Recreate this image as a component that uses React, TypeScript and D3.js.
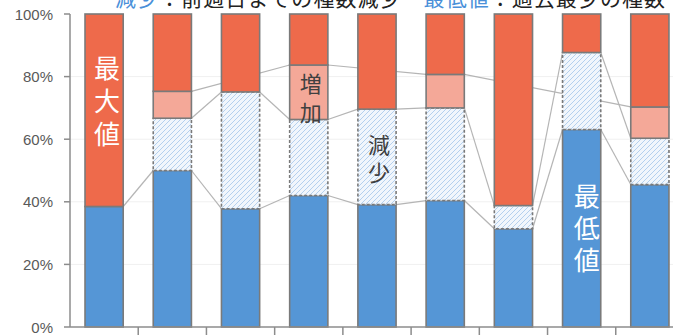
import React from "react";
import * as d3 from "d3";

// Weekly species-count composition, stacked to 100%
const weeks = ["1", "2", "3", "4", "5", "6", "7", "8", "9"];
const baseShare = [38.5, 50, 37.8, 42, 39.1, 40.4, 31.4, 63.1, 45.5];
const decreaseShare = [0, 16.7, 37.3, 24.3, 30.5, 29.6, 7.4, 24.6, 14.8];
const increaseShare = [0, 8.6, 0, 17.4, 0, 10.7, 0, 0, 10];
const restShare = weeks.map(
  (_, i) => 100 - baseShare[i] - decreaseShare[i] - increaseShare[i]
);
const yTicks = [0, 20, 40, 60, 80, 100];

const titleParts = [
  { text: "減少", blue: true },
  { text: "：前週日までの種数減少　", blue: false },
  { text: "最低値", blue: true },
  { text: "：過去最少の種数", blue: false },
];

// Vertical annotations: week index, percent at first glyph, text
const notes = [
  { week: 0, at: 83.4, text: "最大値", light: true, size: 26, pitch: 33, dx: 3 },
  { week: 3, at: 78.3, text: "増加", light: false, size: 22, pitch: 29, dx: 2 },
  { week: 4, at: 58.8, text: "減少", light: false, size: 22, pitch: 28, dx: 2 },
  { week: 7, at: 42.5, text: "最低値", light: true, size: 26, pitch: 32, dx: 5 },
];

const W = 673;
const H = 335;
const left = 70;
const top = 14;
const bottom = 327;

const BLUE = "#5596d6";
const RED = "#ee6a4b";
const PINK = "#f4a898";
const EDGE = "#7a7a7a";
const TEXT = "#595959";

export default function App() {
  const keys = ["base", "decrease", "increase", "rest"];
  const rows = weeks.map((w, i) => ({
    week: w,
    base: baseShare[i],
    decrease: decreaseShare[i],
    increase: increaseShare[i],
    rest: restShare[i],
  }));
  const stacked = d3.stack<any>().keys(keys)(rows);

  const x = d3
    .scaleBand<string>()
    .domain(weeks)
    .range([left, left + 9 * 68.22])
    .paddingInner(0.44)
    .paddingOuter(0.22);
  const y = d3.scaleLinear().domain([0, 100]).range([bottom, top]);
  const bw = x.bandwidth();

  const fills: Record<string, string> = {
    base: BLUE,
    decrease: "url(#hatch)",
    increase: PINK,
    rest: RED,
  };

  // Series connector lines: from the right edge of one bar to the left edge
  // of the next bar that has the segment, at the segment's top.
  const connectors: { x1: number; y1: number; x2: number; y2: number }[] = [];
  const present: Record<string, number[]> = {
    base: baseShare,
    decrease: decreaseShare,
    increase: increaseShare,
  };
  ["base", "decrease", "increase"].forEach((k) => {
    const s = stacked.find((d) => d.key === k)!;
    const idx = weeks.map((_, i) => i).filter((i) => present[k][i] > 0);
    for (let j = 0; j + 1 < idx.length; j++) {
      const a = idx[j];
      const b = idx[j + 1];
      connectors.push({
        x1: (x(weeks[a]) as number) + bw,
        y1: y(s[a][1]),
        x2: x(weeks[b]) as number,
        y2: y(s[b][1]),
      });
    }
  });

  const boundaries = d3.range(1, 10).map((i) => left + i * x.step());

  return (
    <svg
      width={W}
      height={H}
      style={{ position: "absolute", left: 0, top: 0, background: "#fff" }}
      fontFamily="'Noto Sans CJK JP', 'Noto Sans', sans-serif"
    >
      <defs>
        <pattern id="hatch" patternUnits="userSpaceOnUse" width="5" height="5">
          <rect width="5" height="5" fill="#f1f6fc" />
          <path
            d="M-1,1 l2,-2 M0,5 l5,-5 M4,6 l2,-2"
            stroke="#b4d0ee"
            strokeWidth="1"
          />
        </pattern>
      </defs>

      {/* gridlines */}
      {yTicks
        .filter((t) => t > 0 && t < 100)
        .map((t) => (
          <line
            key={t}
            x1={left}
            x2={W}
            y1={y(t)}
            y2={y(t)}
            stroke="#f0f0f0"
            strokeWidth={1}
          />
        ))}

      {/* connectors behind bars */}
      {connectors.map((c, i) => (
        <line
          key={i}
          x1={c.x1}
          y1={c.y1}
          x2={c.x2}
          y2={c.y2}
          stroke="#b5b5b5"
          strokeWidth={1.2}
        />
      ))}

      {/* stacked bars */}
      {stacked.map((s) =>
        s.map((d, i) => {
          const h = y(d[0]) - y(d[1]);
          if (h <= 0) return null;
          return (
            <rect
              key={s.key + i}
              x={x(weeks[i])}
              y={y(d[1])}
              width={bw}
              height={h}
              fill={fills[s.key]}
              stroke={EDGE}
              strokeWidth={1.6}
              strokeDasharray={s.key === "decrease" ? "3 2" : undefined}
            />
          );
        })
      )}

      {/* vertical labels */}
      {notes.map((n, k) => {
        const cx = (x(weeks[n.week]) as number) + bw / 2 + n.dx;
        return (
          <text
            key={k}
            fontSize={n.size}
            fill={n.light ? "#ffffff" : "#404040"}
            textAnchor="middle"
            dominantBaseline="central"
          >
            {Array.from(n.text).map((ch, j) => (
              <tspan key={j} x={cx} y={y(n.at) + j * n.pitch}>
                {ch}
              </tspan>
            ))}
          </text>
        );
      })}

      {/* y axis */}
      <line x1={left} x2={left} y1={top} y2={bottom} stroke="#8c8c8c" strokeWidth={1.5} />
      {yTicks.map((t) => (
        <g key={t}>
          <line x1={left - 6} x2={left} y1={y(t)} y2={y(t)} stroke="#8c8c8c" strokeWidth={1.5} />
          <text
            x={53}
            y={y(t)}
            textAnchor="end"
            dominantBaseline="central"
            fontSize={15}
            fontFamily="'Liberation Sans', Arial, sans-serif"
            fill={TEXT}
          >
            {t}%
          </text>
        </g>
      ))}

      {/* x axis */}
      <line x1={left} x2={W} y1={bottom} y2={bottom} stroke="#8c8c8c" strokeWidth={1.5} />
      {boundaries.map((bx, i) => (
        <line key={i} x1={bx} x2={bx} y1={bottom} y2={bottom + 8} stroke="#8c8c8c" strokeWidth={1.5} />
      ))}

      {/* legend note */}
      <text x={115} y={6} fontSize={21} textLength={550} lengthAdjust="spacing">
        {titleParts.map((p, i) => (
          <tspan key={i} fill={p.blue ? "#4a90d9" : "#222222"}>
            {p.text}
          </tspan>
        ))}
      </text>
    </svg>
  );
}
